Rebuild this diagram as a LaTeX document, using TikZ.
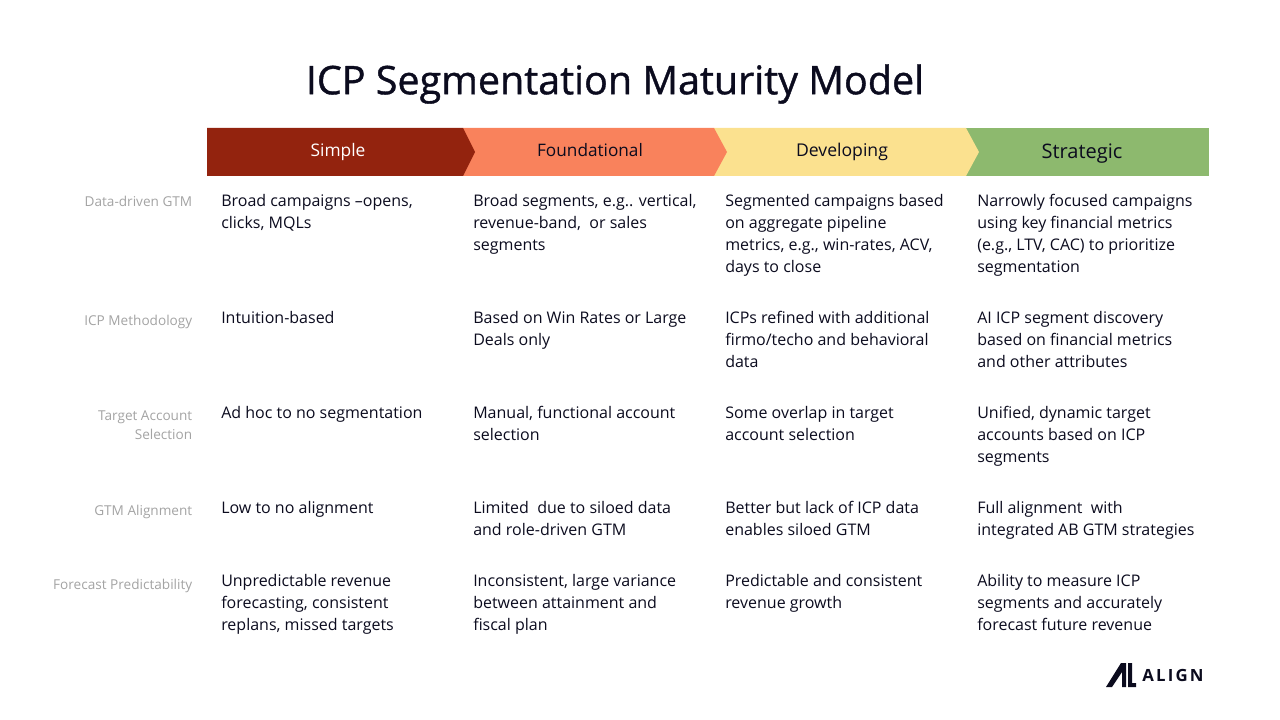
\documentclass[tikz,border=0pt]{standalone}
\usepackage{fontspec}
\setmainfont{Open Sans}
\definecolor{inkc}{HTML}{0B0B1E}
\definecolor{greyc}{HTML}{A3A3A3}
\definecolor{simplec}{HTML}{93230E}
\definecolor{foundc}{HTML}{F9825C}
\definecolor{developc}{HTML}{FBE18F}
\definecolor{stratc}{HTML}{8DB96E}
\tikzset{
	cell/.style={anchor=north west, inner sep=0pt, align=left, text=inkc, font=\fontsize{12}{16.5}\selectfont, execute at begin node=\strut},
	rowlabel/.style={anchor=north east, inner sep=0pt, align=right, text=greyc, font=\fontsize{10.2}{14.6}\selectfont, execute at begin node=\strut},
	stage/.style={anchor=base, inner sep=0pt, text=inkc},
}
\begin{document}
\begin{tikzpicture}[x=0.75pt, y=-0.75pt, line join=round]
	\useasboundingbox (0,0) rectangle (1280,720);
	\node[inner sep=0pt, text=inkc, font=\fontsize{29.6}{34}\selectfont\addfontfeature{FakeBold=1}] (title) at (615,84) {ICP Segmentation Maturity Model};
	% chevrons, right one first
	\fill[stratc] (966,128) -- (1209,128) -- (1209,176) -- (966,176) -- cycle;
	\fill[developc] (714,128) -- (966,128) -- (979,152) -- (966,176) -- (714,176) -- cycle;
	\fill[foundc] (463,128) -- (714,128) -- (727,152) -- (714,176) -- (463,176) -- cycle;
	\fill[simplec] (207,128) -- (463,128) -- (475,152) -- (463,176) -- (207,176) -- cycle;
	\node[stage, text=white, font=\fontsize{13}{15}\selectfont] (simple) at (338,157) {Simple};
	\node[stage, font=\fontsize{12.9}{15}\selectfont] (found) at (590,157) {Foundational};
	\node[stage, font=\fontsize{13.2}{15}\selectfont] (develop) at (842,157) {Developing};
	\node[stage, font=\fontsize{15}{15}\selectfont] (strat) at (1082,159) {Strategic};
	% row labels
	\node[rowlabel] (lab1) at (192.5,193) {Data-driven GTM};
	\node[rowlabel] (lab2) at (192.5,312) {ICP Methodology};
	\node[rowlabel] (lab3) at (192.5,410) {Target Account\\Selection};
	\node[rowlabel] (lab4) at (192.5,502) {GTM Alignment};
	\node[rowlabel] (lab5) at (192.5,576) {Forecast Predictability};
	% row 1
	\node[cell] (a1) at (221,194) {Broad campaigns –opens,\\clicks, MQLs};
	\node[cell] (b1) at (473,194) {Broad segments, e.g.. vertical,\\revenue-band,~ or sales\\segments};
	\node[cell] (c1) at (725,194) {Segmented campaigns based\\on aggregate pipeline\\metrics, e.g., win-rates, ACV,\\days to close};
	\node[cell] (d1) at (977,194) {Narrowly focused campaigns\\using key financial metrics\\(e.g., LTV, CAC) to prioritize\\segmentation};
	% row 2
	\node[cell] (a2) at (221,308) {Intuition-based};
	\node[cell] (b2) at (473,311) {Based on Win Rates or Large\\Deals only};
	\node[cell] (c2) at (725,311) {ICPs refined with additional\\firmo/techo and behavioral\\data};
	\node[cell] (d2) at (977,311) {AI ICP segment discovery\\based on financial metrics\\and other attributes};
	% row 3
	\node[cell] (a3) at (221,403) {Ad hoc to no segmentation};
	\node[cell] (b3) at (473,406) {Manual, functional account\\selection};
	\node[cell] (c3) at (725,406) {Some overlap in target\\account selection};
	\node[cell] (d3) at (977,406) {Unified, dynamic target\\accounts based on ICP\\segments};
	% row 4
	\node[cell] (a4) at (221,498) {Low to no alignment};
	\node[cell] (b4) at (473,501) {Limited~ due to siloed data\\and role-driven GTM};
	\node[cell] (c4) at (725,501) {Better but lack of ICP data\\enables siloed GTM};
	\node[cell] (d4) at (977,501) {Full alignment~ with\\integrated AB GTM strategies};
	% row 5
	\node[cell] (a5) at (221,574) {Unpredictable revenue\\forecasting, consistent\\replans, missed targets};
	\node[cell] (b5) at (473,574) {Inconsistent, large variance\\between attainment and\\fiscal plan};
	\node[cell] (c5) at (725,574) {Predictable and consistent\\revenue growth};
	\node[cell] (d5) at (977,574) {Ability to measure ICP\\segments and accurately\\forecast future revenue};
	% logo
	\fill[inkc] (1106,687) -- (1121,663) -- (1126,663) -- (1126,687) -- (1122,687) -- (1122,672) -- (1112,687) -- cycle;
	\fill[inkc] (1128,663) -- (1132,663) -- (1132,683) -- (1136,683) -- (1136,687) -- (1128,687) -- cycle;
	\node[inner sep=0pt, text=inkc, font=\fontsize{12.6}{15}\selectfont\bfseries\addfontfeature{LetterSpace=13}] (logo) at (1173,675) {ALIGN};
\end{tikzpicture}
\end{document}
